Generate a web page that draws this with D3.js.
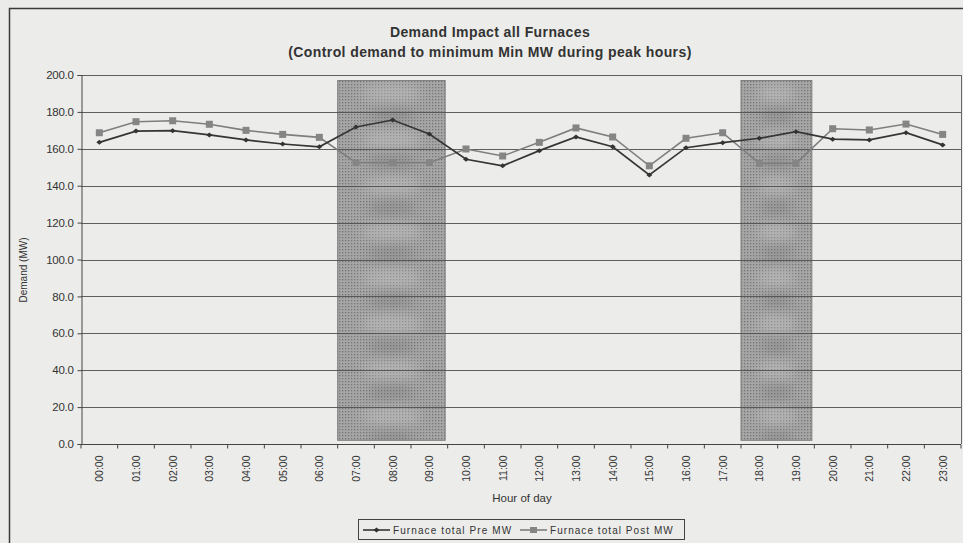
<!DOCTYPE html>
<html>
<head>
<meta charset="utf-8">
<script src="https://cdn.jsdelivr.net/npm/d3@7"></script>
<style>
  html, body { margin: 0; padding: 0; background: #ebebe9; }
  svg { display: block; }
  text { font-family: "Liberation Sans", Arial, sans-serif; fill: #333; }
</style>
</head>
<body>
<svg id="chart" width="963" height="543"></svg>
<script>
// Hour-of-day categories
const hours = ["00:00","01:00","02:00","03:00","04:00","05:00","06:00","07:00","08:00","09:00","10:00","11:00",
               "12:00","13:00","14:00","15:00","16:00","17:00","18:00","19:00","20:00","21:00","22:00","23:00"];

// Furnace demand before control (MW)
const preMW = [163.5, 169.6, 169.8, 167.5, 164.8, 162.6, 161.1, 171.8, 175.6, 168.0, 154.3, 150.8,
               159.0, 166.4, 161.1, 145.8, 160.6, 163.3, 165.7, 169.3, 165.2, 164.8, 168.7, 162.1];

// Furnace demand after control (MW)
const postMW = [168.7, 174.7, 175.2, 173.3, 170.0, 167.8, 166.2, 152.5, 152.5, 152.5, 159.9, 156.1,
                163.5, 171.3, 166.4, 150.8, 165.7, 168.7, 152.1, 152.1, 170.9, 170.2, 173.4, 167.8];

// Peak-hour windows (first hour, last hour) and their shaded value range
const peakWindows = [["07:00", "09:00"], ["18:00", "19:00"]];
const peakRange = [2, 197];

// Value axis ticks
const yTicks = [0, 20, 40, 60, 80, 100, 120, 140, 160, 180, 200];

const seriesNames = ["Furnace total Pre MW", "Furnace total Post MW"];

const svg = d3.select("#chart");
const margin = { left: 81, right: 2, top: 75, bottom: 99 };
const W = 963, H = 543;

const x = d3.scaleBand().domain(hours).range([margin.left, W - margin.right]);
const y = d3.scaleLinear().domain([0, 200]).range([H - margin.bottom, margin.top]);

// Outer chart frame
svg.append("rect")
  .attr("x", 9.5).attr("y", 8.5).attr("width", 980).attr("height", 560)
  .attr("fill", "#ececea").attr("stroke", "#3a3a3a").attr("stroke-width", 1.5);

// Dotted texture for the peak-hour bands
const defs = svg.append("defs");
const pat = defs.append("pattern")
  .attr("id", "dots").attr("patternUnits", "userSpaceOnUse")
  .attr("width", 3).attr("height", 3);
pat.append("rect").attr("width", 3).attr("height", 3).attr("fill", "#a6a6a6");
pat.append("rect").attr("x", 0).attr("y", 0).attr("width", 1.3).attr("height", 1.3).attr("fill", "#767676");

const blur = defs.append("filter").attr("id", "soft").attr("x", "-50%").attr("y", "-50%").attr("width", "200%").attr("height", "200%");
blur.append("feGaussianBlur").attr("stdDeviation", 6);

const bandG = svg.append("g");
peakWindows.forEach(([a, b]) => {
  const x0 = x(a), x1 = x(b) + x.bandwidth() - 2.5;
  bandG.append("rect")
    .attr("x", x0).attr("y", y(peakRange[1]))
    .attr("width", x1 - x0).attr("height", y(peakRange[0]) - y(peakRange[1]))
    .attr("fill", "url(#dots)").attr("stroke", "#7e7e7e").attr("stroke-width", 1);
  // soft light/dark blotches within the band
  const clipId = "clip" + a.replace(":", "");
  defs.append("clipPath").attr("id", clipId).append("rect")
    .attr("x", x0).attr("y", y(peakRange[1]))
    .attr("width", x1 - x0).attr("height", y(peakRange[0]) - y(peakRange[1]));
  const bg = bandG.append("g").attr("clip-path", `url(#${clipId})`);
  const cx = (x0 + x1) / 2;
  for (let v = 190; v > 0; v -= 25) {
    bg.append("ellipse").attr("cx", cx).attr("cy", y(v))
      .attr("rx", (x1 - x0) * 0.28).attr("ry", 10)
      .attr("fill", "#c8c8c8").attr("opacity", 0.4).attr("filter", "url(#soft)");
    bg.append("ellipse").attr("cx", cx).attr("cy", y(v - 12))
      .attr("rx", (x1 - x0) * 0.22).attr("ry", 8)
      .attr("fill", "#6f6f6f").attr("opacity", 0.3).attr("filter", "url(#soft)");
  }
});

// Horizontal gridlines
svg.append("g").selectAll("line").data(yTicks).join("line")
  .attr("x1", margin.left).attr("x2", W - margin.right)
  .attr("y1", d => Math.round(y(d)) + 0.5).attr("y2", d => Math.round(y(d)) + 0.5)
  .attr("stroke", "#505050").attr("stroke-width", 1.1).attr("opacity", 0.9);

// Right plot border
svg.append("line")
  .attr("x1", W - margin.right + 0.5).attr("x2", W - margin.right + 0.5)
  .attr("y1", y(200)).attr("y2", y(0))
  .attr("stroke", "#666").attr("stroke-width", 1);

// Y axis
const yAxis = d3.axisLeft(y).tickValues(yTicks).tickSize(4).tickFormat(d3.format(".1f"));
const gy = svg.append("g").attr("transform", `translate(${margin.left + 0.5},0)`).call(yAxis);
gy.select(".domain").attr("stroke", "#444");
gy.selectAll(".tick line").attr("stroke", "#444");
gy.selectAll(".tick text").attr("font-size", 11.5).attr("fill", "#444").attr("x", -8)
  .attr("letter-spacing", -0.3);

// X axis: ticks at category boundaries
const gx = svg.append("g").attr("transform", `translate(0,${Math.round(y(0)) + 0.5})`);
const bounds = hours.map(h => x(h)).concat([x(hours[hours.length - 1]) + x.bandwidth()]);
gx.append("line").attr("x1", margin.left).attr("x2", W - margin.right)
  .attr("stroke", "#444").attr("stroke-width", 1.1);
gx.selectAll("line.tk").data(bounds).join("line").attr("class", "tk")
  .attr("x1", d => d).attr("x2", d => d).attr("y1", 0).attr("y2", 4)
  .attr("stroke", "#444");
gx.selectAll("text").data(hours).join("text")
  .attr("transform", d => `translate(${x(d) + x.bandwidth() / 2 + 4},11) rotate(-90)`)
  .attr("text-anchor", "end").attr("font-size", 10.5).attr("fill", "#444")
  .text(d => d);

// Series lines
const line = d3.line().x((d, i) => x(hours[i]) + x.bandwidth() / 2).y(d => y(d));

svg.append("path").datum(postMW).attr("d", line)
  .attr("fill", "none").attr("stroke", "#7e7e7e").attr("stroke-width", 1.6);
svg.append("path").datum(preMW).attr("d", line)
  .attr("fill", "none").attr("stroke", "#353535").attr("stroke-width", 1.7);

// Post markers: squares
svg.append("g").selectAll("rect").data(postMW).join("rect")
  .attr("x", (d, i) => x(hours[i]) + x.bandwidth() / 2 - 3.5)
  .attr("y", d => y(d) - 3.5)
  .attr("width", 7).attr("height", 7)
  .attr("fill", "#858585");

// Pre markers: small diamonds
const preG = svg.append("g");
preMW.forEach((d, i) => {
  const cx = x(hours[i]) + x.bandwidth() / 2, cy = y(d);
  preG.append("path")
    .attr("d", `M${cx - 3},${cy}L${cx},${cy - 2.5}L${cx + 3},${cy}L${cx},${cy + 2.5}Z`)
    .attr("fill", "#333");
});

// Title
svg.append("text").attr("x", 490).attr("y", 37).attr("text-anchor", "middle")
  .attr("font-size", 14).attr("font-weight", "bold").attr("fill", "#3a3a3a")
  .attr("letter-spacing", 0.4)
  .text("Demand Impact all Furnaces");
svg.append("text").attr("x", 490).attr("y", 57).attr("text-anchor", "middle")
  .attr("font-size", 14).attr("font-weight", "bold").attr("fill", "#3a3a3a")
  .attr("letter-spacing", 0.4)
  .text("(Control demand to minimum Min MW during peak hours)");

// Axis titles
svg.append("text").attr("x", 522).attr("y", 502).attr("text-anchor", "middle")
  .attr("font-size", 11.5).attr("fill", "#444").text("Hour of day");
svg.append("text").attr("transform", "translate(27,270) rotate(-90)")
  .attr("text-anchor", "middle").attr("font-size", 10).attr("fill", "#444")
  .text("Demand (MW)");

// Legend
const lg = svg.append("g");
lg.append("rect").attr("x", 358.5).attr("y", 519.5).attr("width", 326).attr("height", 20)
  .attr("fill", "#ececea").attr("stroke", "#444").attr("stroke-width", 1);
// Pre entry
lg.append("line").attr("x1", 363).attr("x2", 390).attr("y1", 530).attr("y2", 530)
  .attr("stroke", "#353535").attr("stroke-width", 1.6);
lg.append("path").attr("d", "M373.5,530L376.5,527.5L379.5,530L376.5,532.5Z").attr("fill", "#333");
lg.append("text").attr("x", 393).attr("y", 534).attr("font-size", 10).attr("fill", "#444")
  .attr("letter-spacing", 1.1).text(seriesNames[0]);
// Post entry
lg.append("line").attr("x1", 520).attr("x2", 547).attr("y1", 530).attr("y2", 530)
  .attr("stroke", "#7e7e7e").attr("stroke-width", 1.6);
lg.append("rect").attr("x", 530).attr("y", 527).attr("width", 7).attr("height", 6).attr("fill", "#858585");
lg.append("text").attr("x", 550).attr("y", 534).attr("font-size", 10).attr("fill", "#444")
  .attr("letter-spacing", 1.05).text(seriesNames[1]);
</script>
</body>
</html>
